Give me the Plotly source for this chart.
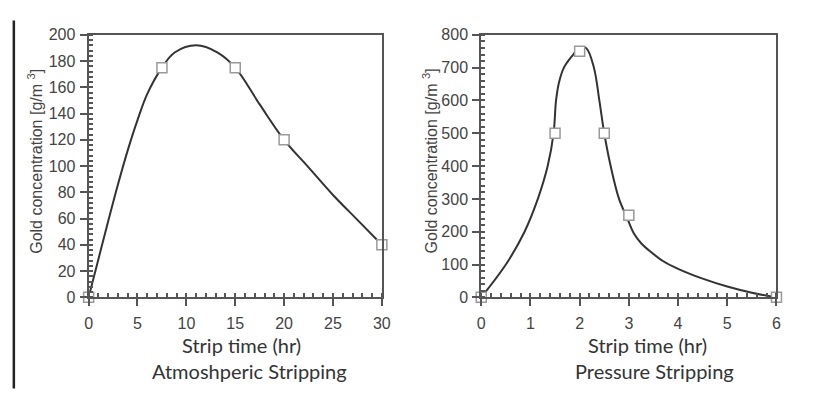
import plotly.graph_objects as go

# ---- data ----
atm_time = [0, 7.5, 15, 20, 30]
atm_conc = [0, 175, 175, 120, 40]
atm_curve_time = [0, 1, 2, 3, 4, 5, 6, 7.5, 8.8, 11.0, 13.2, 15, 17.5, 20, 22.5, 25, 27.5, 30]
atm_curve_conc = [0, 29, 58, 86, 112, 135, 155, 175, 186.5, 192, 186.5, 175, 147, 120, 99, 78, 59, 40]

prs_time = [0, 1.5, 2, 2.5, 3, 6]
prs_conc = [0, 500, 750, 500, 250, 0]
prs_curve_time = [0, 0.5, 0.88, 1.15, 1.35, 1.47, 1.52, 1.58, 1.68, 1.87, 1.98, 2.13, 2.29, 2.4, 2.5, 2.63, 2.8, 2.97, 3.1, 3.25, 3.45, 3.7, 4.0, 4.5, 5.0, 5.5, 6]
prs_curve_conc = [0, 100, 200, 300, 400, 500, 600, 655, 700, 740, 760, 760, 700, 600, 500, 400, 300, 240, 195, 165, 138, 110, 87, 57, 33, 14, 0]

x_title = "Strip time (hr)"
y_title = "Gold concentration [g/m <sup>3</sup>]"
sub_titles = ["Atmoshperic Stripping", "Pressure Stripping"]

LINE = "#333333"
AX = "#555555"
TICKFONT = dict(family="Liberation Sans, Arial", size=16, color="#444444")

fig = go.Figure()

def add_panel(cx, cy, px, py, xa, ya):
    fig.add_trace(go.Scatter(x=cx, y=cy, mode="lines", line=dict(color=LINE, width=2, shape="spline", smoothing=1.0),
                             xaxis=xa, yaxis=ya, showlegend=False, hoverinfo="skip"))
    fig.add_trace(go.Scatter(x=px, y=py, mode="markers",
                             marker=dict(symbol="square", size=10, color="white", line=dict(color="#9a9a9a", width=1.5)),
                             xaxis=xa, yaxis=ya, showlegend=False, cliponaxis=False))

add_panel(atm_curve_time, atm_curve_conc, atm_time, atm_conc, "x", "y")
add_panel(prs_curve_time, prs_curve_conc, prs_time, prs_conc, "x2", "y2")

H = 406
y0 = (H - 302) / H
y1 = (H - 28) / H
dom1 = [86 / 814, 384 / 814]
dom2 = [485 / 814, 785 / 814]

def xaxis(dom, rng, dt, mdt, anchor):
    return dict(domain=dom, range=rng, anchor=anchor, tickmode="linear", tick0=0, dtick=dt,
                ticks="outside", ticklen=7, tickwidth=1.5, tickcolor=AX,
                minor=dict(ticks="inside", ticklen=4, tickcolor=AX, dtick=mdt, tick0=0),
                showline=True, linecolor=AX, linewidth=2, mirror=True, showgrid=False, zeroline=False,
                tickfont=TICKFONT, ticklabelstandoff=3)

def yaxis(rng, dt, mdt, anchor):
    return dict(domain=[y0, y1], range=rng, anchor=anchor, tickmode="linear", tick0=0, dtick=dt,
                ticks="outside", ticklen=7, tickwidth=1.5, tickcolor=AX,
                minor=dict(ticks="inside", ticklen=4, tickcolor=AX, dtick=mdt, tick0=0),
                showline=True, linecolor=AX, linewidth=2, mirror=True, showgrid=False, zeroline=False,
                tickfont=TICKFONT, ticklabelstandoff=1)

def overlay_x(dom, rng, dt, over, anchor):
    return dict(domain=dom, range=rng, overlaying=over, anchor=anchor, tickmode="linear", tick0=0, dtick=dt,
                ticks="inside", ticklen=7, tickwidth=1.5, tickcolor=AX, showticklabels=False,
                showline=False, showgrid=False, zeroline=False, side="bottom")

def overlay_y(rng, dt, over, anchor):
    return dict(domain=[y0, y1], range=rng, overlaying=over, anchor=anchor, tickmode="linear", tick0=0, dtick=dt,
                ticks="inside", ticklen=7, tickwidth=1.5, tickcolor=AX, showticklabels=False,
                showline=False, showgrid=False, zeroline=False, side="left")

fig.update_layout(
    width=814, height=406, autosize=False,
    margin=dict(l=0, r=0, t=0, b=0),
    paper_bgcolor="white", plot_bgcolor="white",
    xaxis=xaxis(dom1, [0, 30], 5, 1, "y"),
    yaxis=yaxis([0, 200], 20, 4, "x"),
    xaxis2=xaxis(dom2, [0, 6], 1, 0.2, "y2"),
    yaxis2=yaxis([0, 800], 100, 20, "x2"),
    xaxis3=overlay_x(dom1, [0, 30], 5, "x", "y"),
    yaxis3=overlay_y([0, 200], 20, "y", "x"),
    xaxis4=overlay_x(dom2, [0, 6], 1, "x2", "y2"),
    yaxis4=overlay_y([0, 800], 100, "y2", "x2"),
)

TITLEFONT = dict(family="Lato, Open Sans", size=20, color="#333333")
YTFONT = dict(family="Liberation Sans, Arial", size=16, color="#444444")

for cx, xt in [(241, x_title), (654, x_title)]:
    fig.add_annotation(x=cx / 814, y=1 - 352 / H, xref="paper", yref="paper", text=xt, showarrow=False,
                       font=TITLEFONT, xanchor="center", yanchor="middle")
for cx, st in [(249, sub_titles[0]), (661, sub_titles[1])]:
    fig.add_annotation(x=cx / 814, y=1 - 379 / H, xref="paper", yref="paper", text=st, showarrow=False,
                       font=TITLEFONT, xanchor="center", yanchor="middle")
for cx in [32, 433]:
    fig.add_annotation(x=cx / 814, y=1 - 160 / H, xref="paper", yref="paper", text=y_title, showarrow=False,
                       font=YTFONT, textangle=-90, xanchor="center", yanchor="middle")

fig.add_shape(type="line", xref="paper", yref="paper", x0=10 / 814, x1=10 / 814, y0=1 - 397 / H, y1=1 - 13 / H,
              line=dict(color="#222222", width=2.5))

fig.write_html("out.html")
